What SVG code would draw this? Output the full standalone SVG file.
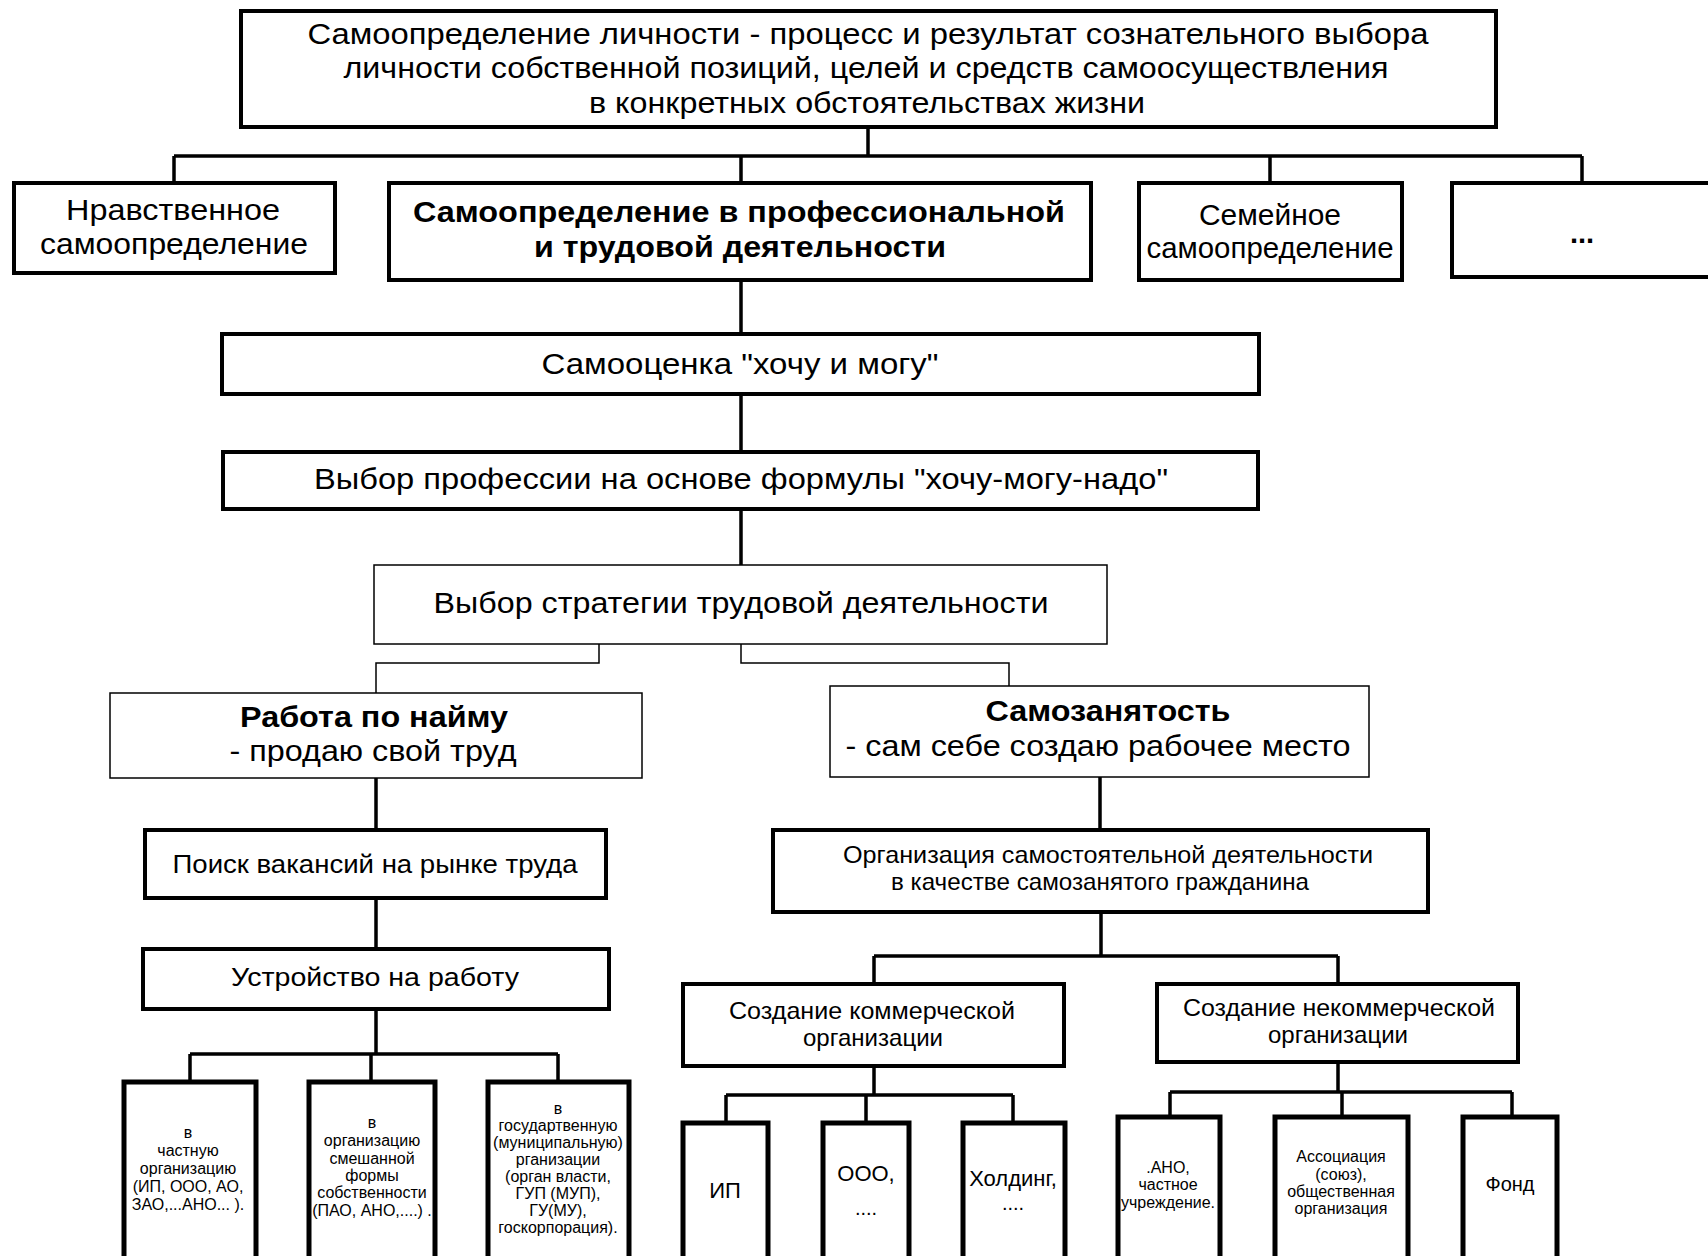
<svg xmlns="http://www.w3.org/2000/svg" width="1708" height="1256" viewBox="0 0 1708 1256">
<style>
.thick{fill:#fff;stroke:#000;stroke-width:4}
.thin{fill:#fff;stroke:#000;stroke-width:1.5}
.leaf{fill:#fff;stroke:#000;stroke-width:5}
.c{fill:none;stroke:#000;stroke-width:3.5}
.ct{fill:none;stroke:#000;stroke-width:1.5}
text{font-family:"Liberation Sans",Arial,sans-serif;text-anchor:middle;fill:#000}
.f29{font-size:29px}
.f26{font-size:26px}
.f24{font-size:24px}
.f22{font-size:22px}
.f20{font-size:20px}
.f16{font-size:16px}
.b{font-weight:bold}
</style>
<rect width="1708" height="1256" fill="#fff"/>
<g id="connectors">
<path class="c" d="M868,127V156M174,156H1582M174,156V183M741,156V183M1270,156V183M1582,156V183"/>
<path class="c" d="M741,280V334M741,394V452M741,509V565"/>
<path class="ct" d="M599,644V663H376V693M741,644V663H1009V686"/>
<path class="c" d="M376,778V830M376,898V949M376,1009V1054M190,1054H558M190,1054V1082M371,1054V1082M558,1054V1082"/>
<path class="c" d="M1100,777V830M1101,912V956M874,956H1338M874,956V984M1338,956V984"/>
<path class="c" d="M874,1066V1095M726,1095H1013M726,1095V1123M866,1095V1123M1013,1095V1123"/>
<path class="c" d="M1338,1062V1092M1170,1092H1512M1170,1092V1117M1342,1092V1117M1512,1092V1117"/>
</g>
<g id="n0">
<rect class="thick" x="241" y="11" width="1255" height="116"/>
<text class="f29" x="868" y="44" textLength="1121" lengthAdjust="spacingAndGlyphs">Самоопределение личности -  процесс и результат  сознательного выбора</text>
<text class="f29" x="866" y="78" textLength="1045" lengthAdjust="spacingAndGlyphs">личности собственной позиций, целей и средств самоосуществления</text>
<text class="f29" x="867" y="113" textLength="556" lengthAdjust="spacingAndGlyphs">в конкретных обстоятельствах жизни</text>
</g>
<g id="n1">
<rect class="thick" x="14" y="183" width="321" height="90"/>
<text class="f29" x="173" y="220" textLength="214" lengthAdjust="spacingAndGlyphs">Нравственное</text>
<text class="f29" x="174" y="254" textLength="268" lengthAdjust="spacingAndGlyphs">самоопределение</text>
</g>
<g id="n2">
<rect class="thick" x="389" y="183" width="702" height="97"/>
<text class="f29 b" x="739" y="222" textLength="652" lengthAdjust="spacingAndGlyphs">Самоопределение в профессиональной</text>
<text class="f29 b" x="740" y="257" textLength="412" lengthAdjust="spacingAndGlyphs">и трудовой деятельности</text>
</g>
<g id="n3">
<rect class="thick" x="1139" y="183" width="263" height="97"/>
<text class="f29" x="1270" y="225" textLength="142" lengthAdjust="spacingAndGlyphs">Семейное</text>
<text class="f29" x="1270" y="258" textLength="247" lengthAdjust="spacingAndGlyphs">самоопределение</text>
</g>
<g id="n4">
<rect class="thick" x="1452" y="183" width="262" height="94"/>
<text class="f29 b" x="1582" y="243">...</text>
</g>
<g id="n5">
<rect class="thick" x="222" y="334" width="1037" height="60"/>
<text class="f29" x="740" y="374" textLength="397" lengthAdjust="spacingAndGlyphs">Самооценка  "хочу и могу"</text>
</g>
<g id="n6">
<rect class="thick" x="223" y="452" width="1035" height="57"/>
<text class="f29" x="741" y="489" textLength="854" lengthAdjust="spacingAndGlyphs">Выбор профессии на основе формулы  "хочу-могу-надо"</text>
</g>
<g id="n7">
<rect class="thin" x="374" y="565" width="733" height="79"/>
<text class="f29" x="741" y="613" textLength="615" lengthAdjust="spacingAndGlyphs">Выбор стратегии трудовой деятельности</text>
</g>
<g id="n8">
<rect class="thin" x="110" y="693" width="532" height="85"/>
<text class="f29 b" x="374" y="727" textLength="268" lengthAdjust="spacingAndGlyphs">Работа по найму</text>
<text class="f29" x="373" y="761" textLength="287" lengthAdjust="spacingAndGlyphs">- продаю свой труд</text>
</g>
<g id="n9">
<rect class="thin" x="830" y="686" width="539" height="91"/>
<text class="f29 b" x="1108" y="721" textLength="245" lengthAdjust="spacingAndGlyphs">Самозанятость</text>
<text class="f29" x="1098" y="756" textLength="505" lengthAdjust="spacingAndGlyphs">- сам себе создаю рабочее место</text>
</g>
<g id="n10">
<rect class="thick" x="145" y="830" width="461" height="68"/>
<text class="f26" x="375" y="873" textLength="405" lengthAdjust="spacingAndGlyphs">Поиск вакансий на рынке труда</text>
</g>
<g id="n11">
<rect class="thick" x="143" y="949" width="466" height="60"/>
<text class="f26" x="375" y="986" textLength="288" lengthAdjust="spacingAndGlyphs">Устройство  на работу</text>
</g>
<g id="n12">
<rect class="thick" x="773" y="830" width="655" height="82"/>
<text class="f24" x="1108" y="863" textLength="530" lengthAdjust="spacingAndGlyphs">Организация  самостоятельной  деятельности</text>
<text class="f24" x="1100" y="890" textLength="418" lengthAdjust="spacingAndGlyphs">в качестве  самозанятого  гражданина</text>
</g>
<g id="n13">
<rect class="thick" x="683" y="984" width="381" height="82"/>
<text class="f24" x="872" y="1019" textLength="286" lengthAdjust="spacingAndGlyphs">Создание  коммерческой</text>
<text class="f24" x="873" y="1046" textLength="140" lengthAdjust="spacingAndGlyphs">организации</text>
</g>
<g id="n14">
<rect class="thick" x="1157" y="984" width="361" height="78"/>
<text class="f24" x="1339" y="1016" textLength="312" lengthAdjust="spacingAndGlyphs">Создание  некоммерческой</text>
<text class="f24" x="1338" y="1043" textLength="140" lengthAdjust="spacingAndGlyphs">организации</text>
</g>
<g id="b1">
<rect class="leaf" x="124" y="1082" width="132" height="190"/>
<text class="f16" x="188" y="1138">в</text>
<text class="f16" x="188" y="1156">частную</text>
<text class="f16" x="188" y="1174">организацию</text>
<text class="f16" x="188" y="1192">(ИП, ООО, АО,</text>
<text class="f16" x="188" y="1210">ЗАО,...АНО... ).</text>
</g>
<g id="b2">
<rect class="leaf" x="309" y="1082" width="126" height="190"/>
<text class="f16" x="372" y="1128">в</text>
<text class="f16" x="372" y="1146">организацию</text>
<text class="f16" x="372" y="1164">смешанной</text>
<text class="f16" x="372" y="1181">формы</text>
<text class="f16" x="372" y="1198">собственности</text>
<text class="f16" x="372" y="1216">(ПАО, АНО,....) .</text>
</g>
<g id="b3">
<rect class="leaf" x="488" y="1082" width="141" height="190"/>
<text class="f16" x="558" y="1114">в</text>
<text class="f16" x="558" y="1131">государтвенную</text>
<text class="f16" x="558" y="1148">(муниципальную)</text>
<text class="f16" x="558" y="1165">рганизации</text>
<text class="f16" x="558" y="1182">(орган власти,</text>
<text class="f16" x="558" y="1199">ГУП  (МУП),</text>
<text class="f16" x="558" y="1216">ГУ(МУ),</text>
<text class="f16" x="558" y="1233">госкорпорация).</text>
</g>
<g id="c1">
<rect class="leaf" x="683" y="1123" width="85" height="150"/>
<text class="f22" x="725" y="1198">ИП</text>
</g>
<g id="c2">
<rect class="leaf" x="823" y="1123" width="86" height="150"/>
<text class="f22" x="866" y="1181">ООО,</text>
<text class="f20" x="866" y="1215">....</text>
</g>
<g id="c3">
<rect class="leaf" x="963" y="1123" width="102" height="150"/>
<text class="f22" x="1013" y="1186">Холдинг,</text>
<text class="f20" x="1013" y="1210">....</text>
</g>
<g id="d1">
<rect class="leaf" x="1118" y="1117" width="102" height="150"/>
<text class="f16" x="1168" y="1173">.АНО,</text>
<text class="f16" x="1168" y="1190">частное</text>
<text class="f16" x="1168" y="1208">учреждение.</text>
</g>
<g id="d2">
<rect class="leaf" x="1275" y="1117" width="133" height="150"/>
<text class="f16" x="1341" y="1162">Ассоциация</text>
<text class="f16" x="1341" y="1180">(союз),</text>
<text class="f16" x="1341" y="1197">общественная</text>
<text class="f16" x="1341" y="1214">организация</text>
</g>
<g id="d3">
<rect class="leaf" x="1463" y="1117" width="94" height="150"/>
<text class="f20" x="1510" y="1191">Фонд</text>
</g>
</svg>
